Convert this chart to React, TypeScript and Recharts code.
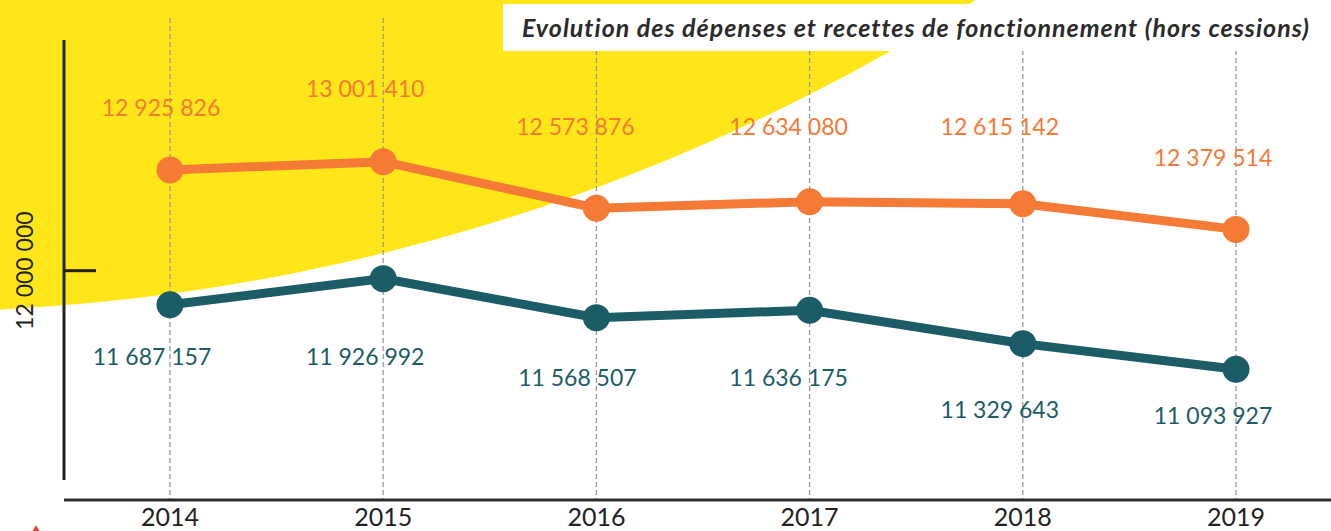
import { CartesianGrid, Line, LineChart, XAxis, YAxis } from "recharts";

const YEARS = ["2014", "2015", "2016", "2017", "2018", "2019"];
const RECETTES = [12925826, 13001410, 12573876, 12634080, 12615142, 12379514];
const DEPENSES = [11687157, 11926992, 11568507, 11636175, 11329643, 11093927];
const Y_TICKS = [12000000];
const Y_DOMAIN = [9892892, 14321818];

const ORANGE = "#f47a35";
const TEAL = "#1b5c66";
const YELLOW = "#fee619";
const FONT = "Lato, 'Open Sans', sans-serif";

// label offsets from each point (label centre), hand-placed like the original
const RECETTES_LABEL_OFFSET = [
  [-9, -62],
  [-18, -73],
  [-21, -81],
  [-21, -75],
  [-23, -77],
  [-23, -71],
];
const DEPENSES_LABEL_OFFSET = [
  [-18, 52],
  [-18, 78],
  [-19, 60],
  [-21, 68],
  [-23, 66],
  [-23, 47],
];

const data = YEARS.map((year, i) => ({
  year,
  recettes: RECETTES[i],
  depenses: DEPENSES[i],
}));

const fmt = (v: number) =>
  String(v).replace(/\B(?=(\d{3})+(?!\d))/g, " ");

function makeLabel(color: string, values: number[], offsets: number[][]) {
  return (props: any) => {
    const { x, y, value } = props;
    const i = props.index ?? values.indexOf(value);
    const [dx, dy] = offsets[i] || [0, 0];
    return (
      <text
        x={x + dx}
        y={y + dy + 8}
        textAnchor="middle"
        fill={color}
        fontSize={23}
        fontFamily={FONT}
      >
        {fmt(value)}
      </text>
    );
  };
}

function YTick(props: any) {
  const { y, payload } = props;
  return (
    <text
      x={24}
      y={y}
      transform={`rotate(-90, 24, ${y})`}
      textAnchor="middle"
      dominantBaseline="central"
      fill="#222"
      fontSize={23}
      fontFamily={FONT}
    >
      {fmt(payload.value)}
    </text>
  );
}

export default function App() {
  return (
    <div
      style={{
        position: "absolute",
        left: 0,
        top: 0,
        width: 1331,
        height: 531,
        overflow: "hidden",
        background: "#fff",
        fontFamily: FONT,
      }}
    >
      {/* yellow background disc */}
      <div
        style={{
          position: "absolute",
          left: -99 - 2007,
          top: -1695 - 2007,
          width: 4014,
          height: 4014,
          borderRadius: "50%",
          background: YELLOW,
        }}
      />
      <div
        style={{
          position: "absolute",
          left: 32,
          top: 525,
          width: 0,
          height: 0,
          borderLeft: "4px solid transparent",
          borderRight: "4px solid transparent",
          borderBottom: "7px solid #e8452c",
        }}
      />
      <div style={{ position: "absolute", left: 0, top: 0 }}>
        <LineChart
          width={1331}
          height={531}
          data={data}
          margin={{ top: 18, right: 0, bottom: 0, left: 64 }}
        >
          <CartesianGrid
            horizontal={false}
            syncWithTicks
            stroke="#9a9a9a"
            strokeWidth={1.3}
            strokeDasharray="5 3"
          />
          <XAxis
            dataKey="year"
            height={31}
            padding={{ left: 106, right: 95 }}
            axisLine={{ stroke: "#2d2d2d", strokeWidth: 3 }}
            tickLine={false}
            tick={{ fill: "#222", fontSize: 25, fontFamily: FONT }}
          />
          <YAxis
            type="number"
            domain={Y_DOMAIN}
            ticks={Y_TICKS}
            mirror
            tickSize={32}
            axisLine={{
              stroke: "#222",
              strokeWidth: 3,
              strokeDasharray: "0 22 440 200",
            }}
            tickLine={{ stroke: "#222", strokeWidth: 3 }}
            tick={<YTick />}
          />
          <Line
            type="linear"
            dataKey="recettes"
            stroke={ORANGE}
            strokeWidth={9}
            dot={{ r: 13.5, fill: ORANGE, stroke: "none" }}
            activeDot={false}
            label={makeLabel(ORANGE, RECETTES, RECETTES_LABEL_OFFSET)}
            isAnimationActive={false}
          />
          <Line
            type="linear"
            dataKey="depenses"
            stroke={TEAL}
            strokeWidth={9}
            dot={{ r: 13.5, fill: TEAL, stroke: "none" }}
            activeDot={false}
            label={makeLabel(TEAL, DEPENSES, DEPENSES_LABEL_OFFSET)}
            isAnimationActive={false}
          />
        </LineChart>
      </div>
      <div
        style={{
          position: "absolute",
          left: 503,
          top: 4,
          width: 828,
          height: 47,
          background: "#fff",
          boxSizing: "border-box",
          paddingRight: 21,
          textAlign: "right",
          lineHeight: "47px",
          fontSize: 25,
          letterSpacing: 1,
          fontWeight: 700,
          fontStyle: "italic",
          color: "#2b2b2b",
          whiteSpace: "nowrap",
        }}
      >
        Evolution des dépenses et recettes de fonctionnement (hors cessions)
      </div>
    </div>
  );
}
